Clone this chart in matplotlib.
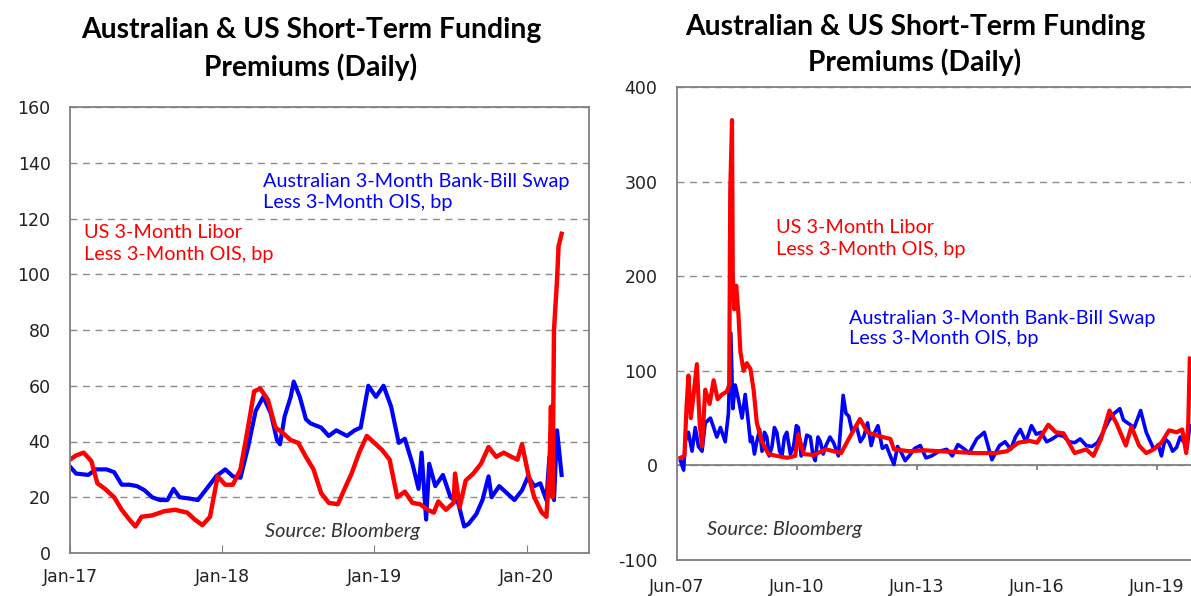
import matplotlib
matplotlib.use("Agg")
import matplotlib.pyplot as plt

plt.rcParams["axes.unicode_minus"] = False

# ---- left panel: Jan-17 to Apr-20 (decimal years) ----
aus_short_t = [2017.00, 2017.04, 2017.12, 2017.17, 2017.24, 2017.29, 2017.34, 2017.39, 2017.44,
               2017.49, 2017.54, 2017.59, 2017.64, 2017.68, 2017.72, 2017.79, 2017.84, 2017.89,
               2017.96, 2018.02, 2018.07, 2018.12, 2018.17, 2018.22, 2018.27, 2018.32, 2018.36,
               2018.38, 2018.41, 2018.45, 2018.47, 2018.51, 2018.55, 2018.58, 2018.65, 2018.70,
               2018.75, 2018.82, 2018.87, 2018.91, 2018.96, 2019.01, 2019.06, 2019.11, 2019.16,
               2019.20, 2019.25, 2019.29, 2019.31, 2019.34, 2019.36, 2019.40, 2019.45, 2019.50,
               2019.55, 2019.59, 2019.62, 2019.67, 2019.71, 2019.75, 2019.77, 2019.82, 2019.87,
               2019.92, 2019.97, 2020.01, 2020.05, 2020.09, 2020.13, 2020.15, 2020.18, 2020.20,
               2020.23]
aus_short_v = [31, 28.5, 28, 30, 30, 29, 24.5, 24.5, 24, 22.5, 20, 19, 19, 23, 20, 19.5, 19, 22.5,
               27.5, 30, 27.5, 27, 38, 51, 56, 50, 40.5, 39, 49, 56, 61.5, 56, 48, 46.5, 45, 42,
               44, 42, 44, 45, 60, 56, 60, 52.5, 39.5, 41, 32, 23, 36, 12, 32, 24, 28, 20, 18,
               9.5, 10.5, 14, 19, 27.5, 20, 24, 21.5, 19, 22.5, 27.5, 24, 25, 19, 34.5, 19, 44, 28]

us_short_t = [2017.00, 2017.04, 2017.09, 2017.14, 2017.18, 2017.23, 2017.29, 2017.34, 2017.39,
              2017.43, 2017.47, 2017.54, 2017.62, 2017.69, 2017.77, 2017.82, 2017.87, 2017.92,
              2017.97, 2018.02, 2018.07, 2018.12, 2018.16, 2018.21, 2018.25, 2018.30, 2018.35,
              2018.40, 2018.45, 2018.50, 2018.55, 2018.60, 2018.65, 2018.70, 2018.76, 2018.80,
              2018.85, 2018.90, 2018.95, 2019.00, 2019.05, 2019.10, 2019.15, 2019.20, 2019.25,
              2019.30, 2019.35, 2019.39, 2019.42, 2019.47, 2019.52, 2019.53, 2019.56, 2019.60,
              2019.65, 2019.70, 2019.75, 2019.80, 2019.85, 2019.90, 2019.94, 2019.97, 2020.01,
              2020.05, 2020.10, 2020.13, 2020.15, 2020.16, 2020.17, 2020.18, 2020.20, 2020.21,
              2020.23]
us_short_v = [33.5, 35, 36, 33, 25, 23, 20, 15.5, 12, 9.5, 13, 13.5, 15, 15.5, 14.5, 12, 10, 13,
              27.5, 24.5, 24.5, 30, 42, 58, 59, 55, 45, 43, 40.5, 39.5, 34.5, 30, 21.5, 18, 17.5,
              22.5, 28.5, 36, 42, 39.5, 37, 33.5, 20, 22, 18, 17.5, 15.5, 14.5, 18.5, 15.5, 18,
              28.5, 16.5, 26, 28.5, 32, 38, 34.5, 36, 34.5, 33.5, 39, 28.5, 20, 14.5, 13, 30,
              52.5, 20, 80, 98, 110, 114.5]

# ---- right panel: Jun-07 to Apr-20 (decimal years) ----
aus_long_t = [2007.50, 2007.58, 2007.62, 2007.70, 2007.79, 2007.87, 2007.95, 2008.04, 2008.12,
              2008.25, 2008.33, 2008.41, 2008.50, 2008.62, 2008.70, 2008.76, 2008.81, 2008.87,
              2008.95, 2009.04, 2009.12, 2009.20, 2009.25, 2009.29, 2009.35, 2009.41, 2009.48,
              2009.54, 2009.60, 2009.66, 2009.72, 2009.79, 2009.85, 2009.91, 2009.98, 2010.04,
              2010.10, 2010.16, 2010.25, 2010.33, 2010.40, 2010.45, 2010.52, 2010.58, 2010.66,
              2010.75, 2010.81, 2010.87, 2010.94, 2011.00, 2011.07, 2011.14, 2011.24, 2011.33,
              2011.45, 2011.57, 2011.64, 2011.71, 2011.80, 2011.90, 2012.00, 2012.09, 2012.18,
              2012.27, 2012.36, 2012.44, 2012.55, 2012.65, 2012.75, 2012.84, 2012.93, 2013.03,
              2013.12, 2013.22, 2013.36, 2013.50, 2013.64, 2013.78, 2013.97, 2014.16, 2014.30,
              2014.44, 2014.58, 2014.72, 2014.91, 2015.10, 2015.29, 2015.48, 2015.62, 2015.76,
              2015.88, 2016.00, 2016.14, 2016.28, 2016.40, 2016.52, 2016.66, 2016.80, 2016.94,
              2017.08, 2017.22, 2017.36, 2017.50, 2017.65, 2017.79, 2017.93, 2018.07, 2018.21,
              2018.35, 2018.49, 2018.58, 2018.68, 2018.85, 2019.01, 2019.15, 2019.34, 2019.45,
              2019.53, 2019.62, 2019.72, 2019.81, 2019.91, 2020.00, 2020.10, 2020.17, 2020.24]
aus_long_v = [5, -5, 25, 35, 15, 40, 20, 15, 45, 50, 40, 30, 40, 25, 55, 140, 60, 85, 70, 50, 75,
              45, 25, 30, 12, 25, 38, 15, 35, 30, 10, 20, 40, 35, 15, 10, 30, 35, 12, 20, 42, 40,
              10, 15, 32, 30, 12, 5, 30, 25, 12, 21, 30, 24, 10, 74, 55, 52, 35, 42, 25, 31, 45,
              21, 35, 42, 18, 21, 10, 1, 20, 13, 5, 10, 18, 21, 8, 10, 15, 17, 10, 22, 18, 13,
              28, 35, 6, 21, 25, 17, 30, 38, 25, 42, 33, 35, 25, 28, 32, 31, 25, 24, 28, 21, 20,
              24, 35, 47, 55, 60, 48, 45, 40, 58, 35, 17, 22, 10, 28, 24, 15, 19, 30, 24, 18, 42]

us_long_t = [2007.50, 2007.60, 2007.65, 2007.70, 2007.76, 2007.83, 2007.91, 2007.98, 2008.04,
             2008.12, 2008.23, 2008.33, 2008.43, 2008.54, 2008.66, 2008.72, 2008.745, 2008.79,
             2008.81, 2008.845, 2008.895, 2008.95, 2009.00, 2009.08, 2009.16, 2009.25, 2009.33,
             2009.41, 2009.54, 2009.70, 2009.91, 2010.16, 2010.37, 2010.45, 2010.58, 2010.83,
             2011.14, 2011.52, 2011.71, 2011.99, 2012.18, 2012.46, 2012.75, 2012.84, 2013.22,
             2013.59, 2013.97, 2014.44, 2014.91, 2015.38, 2015.67, 2015.95, 2016.23, 2016.42,
             2016.70, 2016.89, 2017.08, 2017.36, 2017.65, 2017.83, 2018.02, 2018.23, 2018.40,
             2018.64, 2018.78, 2018.97, 2019.15, 2019.34, 2019.53, 2019.72, 2019.91, 2020.05,
             2020.15, 2020.20, 2020.24]
us_long_v = [8, 10, 60, 95, 50, 75, 107, 45, 20, 80, 65, 90, 70, 75, 78, 85, 290, 365, 200, 165,
             190, 160, 120, 100, 108, 102, 80, 45, 25, 12, 10, 8, 10, 33, 12, 11, 17, 13, 28, 49,
             35, 31, 28, 17, 15, 16, 15, 14, 13, 13, 15, 24, 26, 24, 43, 35, 34, 13, 17, 10, 28,
             58, 45, 21, 41, 21, 13, 17, 24, 37, 35, 38, 13, 42, 113]

left_ticks = [2017.0, 2018.0, 2019.0, 2020.0]
left_ticklabels = ["Jan-17", "Jan-18", "Jan-19", "Jan-20"]
right_ticks = [2007.414, 2010.414, 2013.414, 2016.414, 2019.414]
right_ticklabels = ["Jun-07", "Jun-10", "Jun-13", "Jun-16", "Jun-19"]

BLUE = "#0000FF"
RED = "#FF0000"
SPINE = "#808080"
TXT = "Lato"

W, H = 1191, 596
fig = plt.figure(figsize=(W / 100, H / 100), dpi=100)


def px_axes(x0, x1, ytop, ybot):
    return fig.add_axes([x0 / W, 1 - ybot / H, (x1 - x0) / W, (ybot - ytop) / H])


def style(ax):
    for s in ax.spines.values():
        s.set_color(SPINE)
        s.set_linewidth(1.3)
    ax.tick_params(axis="y", length=0, pad=14, labelsize=12.5, colors="#222222")
    ax.tick_params(axis="x", labelsize=12.5, colors="#222222")
    ax.yaxis.grid(True, linestyle=(0, (5, 4)), color="#8c8c8c", linewidth=1.0)
    ax.set_axisbelow(True)


# left chart
ax1 = px_axes(70, 589, 107, 553)
style(ax1)
ax1.plot(aus_short_t, aus_short_v, color=BLUE, lw=3.0, solid_joinstyle="round")
ax1.plot(us_short_t, us_short_v, color=RED, lw=3.2, solid_joinstyle="round")
ax1.set_xlim(2017.0, 2020.41)
ax1.set_ylim(0, 160)
ax1.set_yticks(range(0, 161, 20))
ax1.set_xticks(left_ticks, left_ticklabels)
ax1.tick_params(axis="x", direction="in", length=6, color=SPINE, pad=11)
ax1.text(2017.09, 111, "US 3-Month Libor\nLess 3-Month OIS, bp", color=RED,
         fontsize=14.3, family=TXT, va="center", ha="left", linespacing=1.35)
ax1.text(2018.27, 129.5, "Australian 3-Month Bank-Bill Swap\nLess 3-Month OIS, bp", color=BLUE,
         fontsize=14.3, family=TXT, va="center", ha="left", linespacing=1.25)
ax1.text(2018.28, 7.8, "Source: Bloomberg", color="#333333", fontsize=14.3, family=TXT,
         style="italic", va="center", ha="left")

# right chart (cropped on the right edge)
ax2 = px_axes(677, 1191, 87, 560)
style(ax2)
ax2.spines["right"].set_visible(False)
ax2.plot(aus_long_t, aus_long_v, color=BLUE, lw=2.6, solid_joinstyle="round")
ax2.plot(us_long_t, us_long_v, color=RED, lw=3.0, solid_joinstyle="round")
ax2.set_xlim(2007.414, 2020.27)
ax2.set_ylim(-100, 400)
ax2.set_yticks(range(-100, 401, 100))
ax2.set_xticks(right_ticks, right_ticklabels)
ax2.tick_params(axis="x", length=0, pad=13)
ax2.axhline(0, color=SPINE, lw=1.3, zorder=1)
ax2.vlines(right_ticks[1:], -5, 0, color=SPINE, lw=1.3, zorder=1)
ax2.text(2009.88, 240, "US 3-Month Libor\nLess 3-Month OIS, bp", color=RED,
         fontsize=14.3, family=TXT, va="center", ha="left", linespacing=1.35)
ax2.text(2011.71, 144.5, "Australian 3-Month Bank-Bill Swap\nLess 3-Month OIS, bp", color=BLUE,
         fontsize=14.3, family=TXT, va="center", ha="left", linespacing=1.25)
ax2.text(2008.17, -68, "Source: Bloomberg", color="#333333", fontsize=14.3, family=TXT,
         style="italic", va="center", ha="left")

# titles
for cx, y1, y2 in [(311, 30, 67), (915, 27, 62)]:
    fig.text(cx / W, 1 - y1 / H, "Australian & US Short-Term Funding", ha="center", va="center",
             fontsize=20.3, fontweight="bold", family=TXT)
    fig.text(cx / W, 1 - y2 / H, "Premiums (Daily)", ha="center", va="center",
             fontsize=20.3, fontweight="bold", family=TXT)

fig.savefig("out.png", dpi=100)
